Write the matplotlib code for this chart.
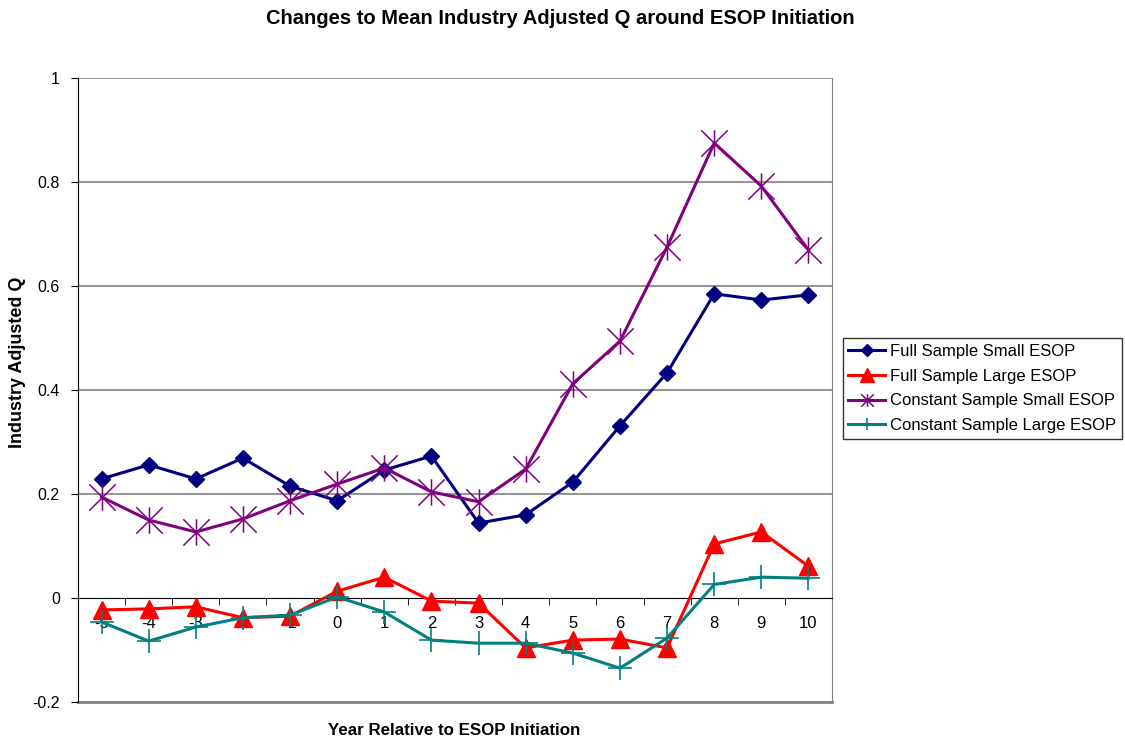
import numpy as np
import matplotlib.pyplot as plt
from matplotlib.path import Path

plt.rcParams['font.family'] = ['Liberation Sans', 'DejaVu Sans']

years = [-5, -4, -3, -2, -1, 0, 1, 2, 3, 4, 5, 6, 7, 8, 9, 10]

full_small = [0.229, 0.256, 0.229, 0.269, 0.215, 0.187, 0.246, 0.273,
              0.144, 0.160, 0.223, 0.331, 0.433, 0.585, 0.573, 0.583]
full_large = [-0.023, -0.021, -0.017, -0.038, -0.035, 0.013, 0.040, -0.006,
              -0.010, -0.096, -0.081, -0.079, -0.096, 0.104, 0.127, 0.061]
const_small = [0.194, 0.150, 0.127, 0.152, 0.187, 0.219, 0.250, 0.204,
               0.185, 0.248, 0.412, 0.494, 0.675, 0.875, 0.792, 0.669]
const_large = [-0.046, -0.083, -0.056, -0.038, -0.033, 0.002, -0.027, -0.081,
               -0.087, -0.087, -0.106, -0.135, -0.077, 0.026, 0.040, 0.038]

# star marker: an X with a vertical stroke through it
star = Path([(0, -1), (0, 1), (-1, -1), (1, 1), (-1, 1), (1, -1)],
            [Path.MOVETO, Path.LINETO, Path.MOVETO, Path.LINETO,
             Path.MOVETO, Path.LINETO])

fig = plt.figure(figsize=(11.25, 7.4), dpi=100)
ax = fig.add_axes([0.0693, 0.0514, 0.6703, 0.8432])

x = np.arange(len(years))

# gridlines
for g in [0.2, 0.4, 0.6, 0.8, 1.0]:
    ax.axhline(g, color='#808080', lw=1.2, zorder=0)

ax.plot(x, full_small, color='#000080', lw=2.2, marker='D', ms=8.5,
        label='Full Sample Small ESOP', zorder=3)
ax.plot(x, full_large, color='#FF0000', lw=2.2, marker='^', ms=12.5,
        label='Full Sample Large ESOP', zorder=3)
ax.plot(x, const_small, color='#800080', lw=2.2, marker=star, ms=19,
        mew=1.1, label='Constant Sample Small ESOP', zorder=3)
ax.plot(x, const_large, color='#008080', lw=2.2, marker='+', ms=17,
        mew=1.2, label='Constant Sample Large ESOP', zorder=3)

ax.set_xlim(-0.5, len(years) - 0.5)
ax.set_ylim(-0.2, 1.0)

# category axis sits on y = 0
ax.spines['bottom'].set_position(('data', 0))
ax.spines['bottom'].set_color('black')
ax.spines['left'].set_color('black')
ax.spines['top'].set_visible(False)
ax.spines['right'].set_color('#808080')
ax.axhline(-0.2, color='#808080', lw=2, zorder=1, clip_on=False)

ax.set_xticks(x)
ax.set_xticklabels([str(y) for y in years], fontsize=12)
ax.set_xticks(np.arange(-0.5, len(years)), minor=True)
ax.tick_params(axis='x', which='major', length=0, pad=13)
ax.tick_params(axis='x', which='minor', length=5, direction='out')

ax.set_yticks([-0.2, 0, 0.2, 0.4, 0.6, 0.8, 1.0])
ax.set_yticklabels(['-0.2', '0', '0.2', '0.4', '0.6', '0.8', '1'], fontsize=11.5)
ax.tick_params(axis='y', length=5, direction='out', pad=8)

fig.text(0.498, 0.975, 'Changes to Mean Industry Adjusted Q around ESOP Initiation',
         ha='center', va='center', fontsize=14.5, fontweight='bold')
fig.text(0.016, 0.511, 'Industry Adjusted Q', rotation=90,
         ha='center', va='center', fontsize=13, fontweight='bold')
fig.text(0.404, 0.013, 'Year Relative to ESOP Initiation',
         ha='center', va='center', fontsize=12.2, fontweight='bold')

leg = ax.legend(loc='upper left', bbox_to_anchor=(0.749, 0.543),
                bbox_transform=fig.transFigure, borderaxespad=0,
                fontsize=12, handlelength=2.2,
                handletextpad=0.3, labelspacing=0.58, borderpad=0.35,
                fancybox=False, frameon=True)
leg.get_frame().set_edgecolor('black')
leg.get_frame().set_linewidth(1)
for h, s in zip(leg.legend_handles, [6, 10, 9, 9]):
    h.set_markersize(s)

fig.savefig('out.png', dpi=100)
